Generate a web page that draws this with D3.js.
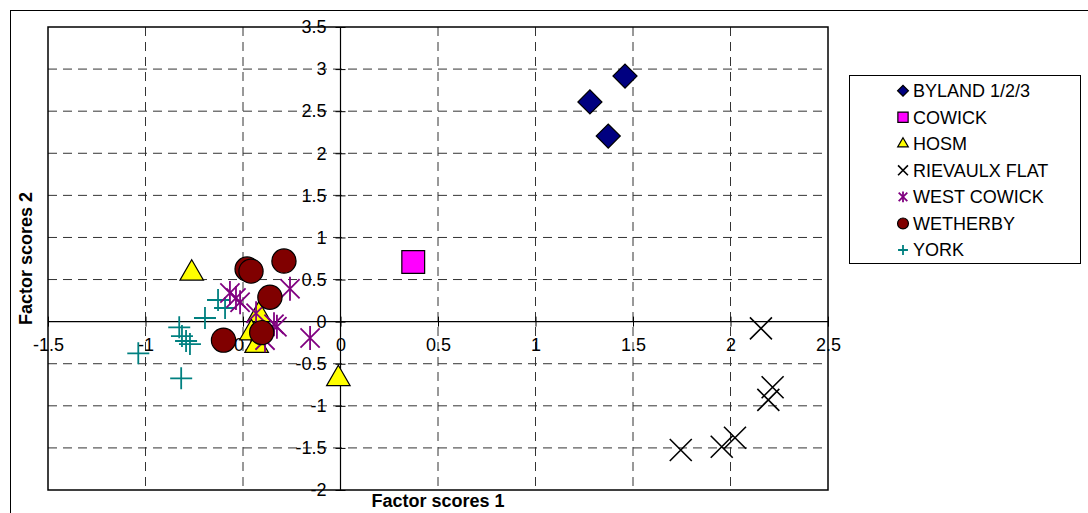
<!DOCTYPE html>
<html>
<head>
<meta charset="utf-8">
<title>Factor scores</title>
<script src="https://d3js.org/d3.v7.min.js"></script>
<style>
  body { margin: 0; background: #fff; }
  svg { font-family: "Liberation Sans", Arial, sans-serif; }
  .grid line { stroke: #333; stroke-width: 1; stroke-dasharray: 9,6; }
  .axis .domain { display: none; }
  .axis line { stroke: #000; }
  .axis text { font-size: 18px; fill: #000; }
</style>
</head>
<body>
<script>
// series values [factor score 1, factor score 2]
var byland = [[1.459, 2.917], [1.279, 2.61], [1.373, 2.204]];
var cowick = [[0.373, 0.708]];
var hosm = [[-0.763, 0.574], [-0.011, -0.68], [-0.418, 0.08], [-0.457, -0.135], [-0.43, -0.285]];
var rievaulx = [[2.156, -0.08], [2.216, -0.78], [2.194, -0.93], [2.023, -1.38], [1.955, -1.486], [1.745, -1.525]];
var westCowick = [[-0.567, 0.34], [-0.536, 0.28], [-0.515, 0.23], [-0.433, 0.10], [-0.341, -0.03],
                  [-0.387, -0.22], [-0.259, 0.39], [-0.156, -0.195], [-0.326, -0.06]];
var wetherby = [[-0.479, 0.625], [-0.459, 0.60], [-0.29, 0.72], [-0.362, 0.29], [-0.404, -0.13], [-0.60, -0.22]];
var york = [[-1.037, -0.376], [-0.817, -0.673], [-0.827, -0.068], [-0.813, -0.171], [-0.792, -0.23],
            [-0.772, -0.266], [-0.695, 0.043], [-0.628, 0.257], [-0.592, 0.162]];

var xTicks = [-1.5, -1, -0.5, 0, 0.5, 1, 1.5, 2, 2.5];
var yTicks = [-2, -1.5, -1, -0.5, 0, 0.5, 1, 1.5, 2, 2.5, 3, 3.5];
var legendNames = ["BYLAND 1/2/3", "COWICK", "HOSM", "RIEVAULX FLAT", "WEST COWICK", "WETHERBY", "YORK"];

var W = 1088, H = 513;
var plot = {left: 48, right: 828, top: 27, bottom: 490};

var svg = d3.select("body").append("svg")
    .attr("width", W)
    .attr("height", H);

// outer chart frame
svg.append("rect")
    .attr("x", 10.5).attr("y", 10.5)
    .attr("width", 1200).attr("height", 600)
    .attr("fill", "#fff").attr("stroke", "#000").attr("stroke-width", 1);

var x = d3.scaleLinear().domain([-1.5, 2.5]).range([plot.left, plot.right]);
var y = d3.scaleLinear().domain([-2, 3.5]).range([plot.bottom, plot.top]);
var x0 = x(0), y0 = y(0);

// dashed gridlines
var grid = svg.append("g").attr("class", "grid");
grid.selectAll(".gy")
    .data(yTicks.filter(function(d) { return d !== 0 && d !== -2 && d !== 3.5; }))
  .enter().append("line")
    .attr("x1", plot.left).attr("x2", plot.right)
    .attr("y1", function(d) { return y(d); }).attr("y2", function(d) { return y(d); });
grid.selectAll(".gx")
    .data(xTicks.filter(function(d) { return d !== 0 && d !== -1.5 && d !== 2.5; }))
  .enter().append("line")
    .attr("y1", plot.top).attr("y2", plot.bottom)
    .attr("x1", function(d) { return x(d); }).attr("x2", function(d) { return x(d); });

// plot border
svg.append("rect")
    .attr("x", plot.left).attr("y", plot.top)
    .attr("width", plot.right - plot.left).attr("height", plot.bottom - plot.top)
    .attr("fill", "none").attr("stroke", "#000").attr("stroke-width", 1.5);

// zero lines
svg.append("line").attr("x1", plot.left).attr("x2", plot.right)
    .attr("y1", y0).attr("y2", y0).attr("stroke", "#000").attr("stroke-width", 1.2);
svg.append("line").attr("x1", x0).attr("x2", x0)
    .attr("y1", plot.top).attr("y2", plot.bottom).attr("stroke", "#000").attr("stroke-width", 1.2);

// axes cross at zero
var fmt = function(d) { return String(d); };
svg.append("g").attr("class", "axis")
    .attr("transform", "translate(" + (x0 + 5) + ",0)")
    .call(d3.axisLeft(y).tickValues(yTicks).tickFormat(fmt).tickSize(10).tickPadding(9));
svg.append("g").attr("class", "axis")
    .attr("transform", "translate(0," + (y0 - 5) + ")")
    .call(d3.axisBottom(x).tickValues(xTicks).tickFormat(fmt).tickSize(10).tickPadding(12));

// marker drawing helpers
function cross(g, h, color, w) {
  g.append("path")
      .attr("d", "M" + (-h) + "," + (-h) + "L" + h + "," + h + "M" + (-h) + "," + h + "L" + h + "," + (-h))
      .attr("stroke", color).attr("stroke-width", w).attr("fill", "none");
}
function plus(g, h, color, w) {
  g.append("path")
      .attr("d", "M" + (-h) + ",0L" + h + ",0M0," + (-h) + "L0," + h)
      .attr("stroke", color).attr("stroke-width", w).attr("fill", "none");
}
function star(g, h, color, w) {
  cross(g, h * 0.8, color, w);
  g.append("path").attr("d", "M0," + (-h) + "L0," + h)
      .attr("stroke", color).attr("stroke-width", w);
}
function sym(g, type, size, fill, rot) {
  g.append("path")
      .attr("d", d3.symbol().type(type).size(size)())
      .attr("transform", rot ? "rotate(" + rot + ")" : null)
      .attr("fill", fill).attr("stroke", "#000").attr("stroke-width", 1.2);
}

var markers = {
  "BYLAND 1/2/3": function(g, s) { sym(g, d3.symbolSquare, 290 * s * s, "#000080", 45); },
  "COWICK": function(g, s) { sym(g, d3.symbolSquare, 520 * s * s, "#ff00ff"); },
  "HOSM": function(g, s) { sym(g, d3.symbolTriangle, 240 * s * s, "#ffff00"); },
  "RIEVAULX FLAT": function(g, s) { cross(g, 11 * s, "#000", 1.6); },
  "WEST COWICK": function(g, s) { star(g, 12 * s, "#800080", 1.8); },
  "WETHERBY": function(g, s) { sym(g, d3.symbolCircle, 460 * s * s, "#800000"); },
  "YORK": function(g, s) { plus(g, 11 * s, "#008080", 1.8); }
};

var series = [
  ["YORK", york], ["HOSM", hosm], ["WEST COWICK", westCowick], ["WETHERBY", wetherby],
  ["BYLAND 1/2/3", byland], ["COWICK", cowick], ["RIEVAULX FLAT", rievaulx]
];

series.forEach(function(s) {
  svg.append("g").selectAll("g")
      .data(s[1])
    .enter().append("g")
      .attr("transform", function(d) { return "translate(" + x(d[0]) + "," + y(d[1]) + ")"; })
      .each(function() { markers[s[0]](d3.select(this), 1); });
});

// axis titles
svg.append("text")
    .attr("x", (plot.left + plot.right) / 2).attr("y", 507)
    .attr("text-anchor", "middle")
    .style("font-size", "18px").style("font-weight", "bold")
    .text("Factor scores 1");
svg.append("text")
    .attr("transform", "translate(32," + ((plot.top + plot.bottom) / 2) + ") rotate(-90)")
    .attr("text-anchor", "middle")
    .style("font-size", "18px").style("font-weight", "bold")
    .text("Factor scores 2");

// legend
var legend = svg.append("g");
legend.append("rect")
    .attr("x", 849.5).attr("y", 75.5).attr("width", 231).attr("height", 188)
    .attr("fill", "#fff").attr("stroke", "#000").attr("stroke-width", 1);
var item = legend.selectAll(".item")
    .data(legendNames)
  .enter().append("g")
    .attr("transform", function(d, i) { return "translate(903," + (90.7 + i * 26.55) + ")"; });
item.each(function(d) { markers[d](d3.select(this), 0.45); });
item.append("text")
    .attr("x", 10).attr("dy", "0.36em")
    .style("font-size", "18px")
    .text(function(d) { return d; });
</script>
</body>
</html>
